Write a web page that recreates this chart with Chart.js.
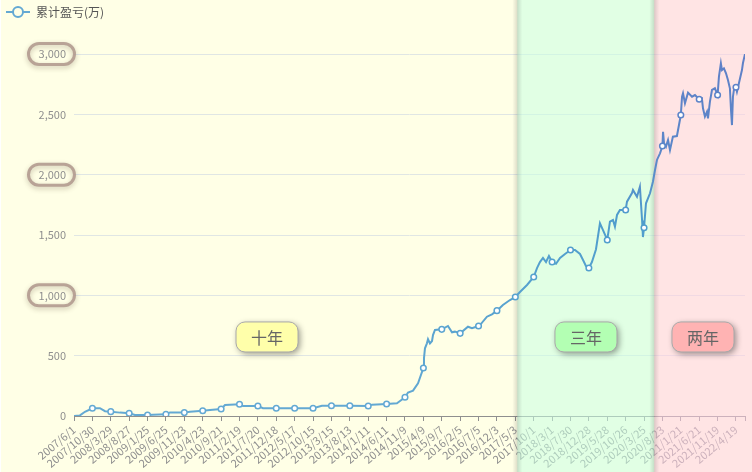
<!DOCTYPE html>
<html>
<head>
<meta charset="utf-8">
<script src="https://cdn.jsdelivr.net/npm/chart.js@4.4.1/dist/chart.umd.min.js"></script>
<style>
  html, body { margin: 0; padding: 0; background: #fff; overflow: hidden; }
  #wrap { width: 752px; height: 472px; position: relative; }
</style>
</head>
<body>
<div id="wrap"><canvas id="c" width="752" height="472"></canvas></div>
<script>
// ─── Data ────────────────────────────────────────────────────────────────────
// x = days since 2007/6/1, y = cumulative profit (万)
var dayIndex = [
  0, 49, 90, 151, 213, 255, 302, 378, 453, 501,
  604, 649, 755, 788, 906, 952, 1057, 1117, 1208, 1240,
  1359, 1388, 1510, 1552, 1661, 1812, 1963, 2036, 2114, 2265,
  2416, 2447, 2567, 2652, 2677, 2718, 2743, 2784, 2825, 2869,
  2874, 2882, 2898, 2907, 2923, 2940, 2948, 2964, 3020, 3071,
  3104, 3128, 3171, 3235, 3268, 3322, 3334, 3391, 3432, 3473,
  3522, 3580, 3624, 3662, 3720, 3775, 3802, 3826, 3851, 3876,
  3900, 3926, 3958, 3991, 4032, 4077, 4114, 4155, 4180, 4204,
  4228, 4253, 4286, 4319, 4344, 4379, 4401, 4426, 4442, 4459,
  4483, 4530, 4541, 4582, 4590, 4623, 4647, 4665, 4672, 4681,
  4697, 4730, 4754, 4771, 4787, 4812, 4832, 4837, 4845, 4861,
  4878, 4894, 4918, 4951, 4983, 4993, 5001, 5017, 5042, 5075,
  5099, 5134, 5156, 5165, 5181, 5198, 5206, 5222, 5239, 5263,
  5285, 5296, 5312, 5321, 5337, 5354, 5370, 5386, 5395, 5403,
  5411, 5419, 5436, 5444, 5460, 5485, 5493, 5510
];
var profit = [
  0, 5, 35, 64, 65, 40, 36, 28, 22, 8,
  8, 10, 14, 30, 28, 36, 44, 50, 58, 91,
  97, 83, 83, 64, 64, 64, 64, 85, 85, 85,
  83, 94, 100, 105, 124, 155, 195, 210, 271, 398,
  480, 561, 602, 636, 602, 622, 671, 713, 718, 746,
  694, 699, 685, 740, 727, 746, 754, 823, 843, 873,
  920, 961, 986, 1028, 1086, 1152, 1226, 1276, 1310, 1276,
  1326, 1276, 1262, 1310, 1343, 1376, 1376, 1343, 1293, 1243,
  1226, 1276, 1380, 1597, 1541, 1459, 1610, 1624, 1569, 1666,
  1707, 1707, 1776, 1848, 1873, 1817, 1900, 1620, 1483, 1560,
  1763, 1846, 1942, 2039, 2122, 2177, 2238, 2356, 2260, 2232,
  2287, 2204, 2315, 2320, 2494, 2646, 2674, 2592, 2680, 2646,
  2660, 2625, 2633, 2550, 2481, 2522, 2467, 2605, 2702, 2716,
  2660, 2812, 2923, 2867, 2881, 2840, 2785, 2716, 2536, 2411,
  2646, 2702, 2724, 2688, 2757, 2867, 2923, 3000
];

// x-axis labels, one every 151 days
var tickLabels = [
  '2007/6/1', '2007/10/30', '2008/3/29', '2008/8/27', '2009/1/25', '2009/6/25',
  '2009/11/23', '2010/4/23', '2010/9/21', '2011/2/19', '2011/7/20', '2011/12/18',
  '2012/5/17', '2012/10/15', '2013/3/15', '2013/8/13', '2014/1/11', '2014/6/11',
  '2014/11/9', '2015/4/9', '2015/9/7', '2016/2/5', '2016/7/5', '2016/12/3',
  '2017/5/3', '2017/10/1', '2018/3/1', '2018/7/30', '2018/12/28', '2019/5/28',
  '2019/10/26', '2020/3/25', '2020/8/23', '2021/1/21', '2021/6/21', '2021/11/19',
  '2022/4/19'
];
var TICK_STEP = 151;
var LAST_DAY = 5510;

// period bands (start/end in days) and their tag boxes
var bandNames  = ['十年', '三年', '两年'];
var bandStart  = [0, 3640, 4765];
var bandEnd    = [3640, 4765, 5600];
var bandTagDay = [1585, 4204, 5165];

var ringValues = [1000, 2000, 3000];

// ─── Styles ──────────────────────────────────────────────────────────────────
var FONT = '"Noto Sans CJK SC", "Noto Sans", sans-serif';
var BG = '#ffffe6';
var bandFill = [null, 'rgba(200,255,225,0.55)', 'rgba(255,205,225,0.55)'];
var tagFill  = ['#ffffaa', '#b3ffb3', '#ffb3b3'];
var lineStops = [[0, '#64a9d3'], [0.55, '#4f9dcc'], [0.7, '#5b88c9'], [1, '#5f80c7']];

var points = dayIndex.map(function(d, i) { return { x: d, y: profit[i] }; });

function hexToRgb(h) {
  return [parseInt(h.substr(1, 2), 16), parseInt(h.substr(3, 2), 16), parseInt(h.substr(5, 2), 16)];
}
function colorFor(v) {
  var t = v / 3000;
  for (var i = 1; i < lineStops.length; i++) {
    if (t <= lineStops[i][0]) {
      var a = lineStops[i - 1], b = lineStops[i];
      var f = (t - a[0]) / (b[0] - a[0]);
      var ca = hexToRgb(a[1]), cb = hexToRgb(b[1]);
      return 'rgb(' + ca.map(function(c, k) { return Math.round(c + (cb[k] - c) * f); }).join(',') + ')';
    }
  }
  return lineStops[lineStops.length - 1][1];
}

function roundRect(ctx, x, y, w, h, r) {
  ctx.beginPath();
  ctx.moveTo(x + r, y);
  ctx.lineTo(x + w - r, y);
  ctx.arcTo(x + w, y, x + w, y + r, r);
  ctx.lineTo(x + w, y + h - r);
  ctx.arcTo(x + w, y + h, x + w - r, y + h, r);
  ctx.lineTo(x + r, y + h);
  ctx.arcTo(x, y + h, x, y + h - r, r);
  ctx.lineTo(x, y + r);
  ctx.arcTo(x, y, x + r, y, r);
  ctx.closePath();
}

// ─── Plugins ─────────────────────────────────────────────────────────────────
var backgroundPlugin = {
  id: 'bg',
  beforeDraw: function(chart) {
    var ctx = chart.ctx;
    ctx.save();
    ctx.fillStyle = BG;
    ctx.fillRect(1, 0, chart.width, chart.height);
    ctx.restore();
  }
};

var bandPlugin = {
  id: 'bands',
  beforeDatasetsDraw: function(chart) {
    var ctx = chart.ctx, xs = chart.scales.x;
    ctx.save();
    for (var i = 1; i < bandNames.length; i++) {
      var x0 = xs.getPixelForValue(bandStart[i]);
      var x1 = (i < bandNames.length - 1) ? xs.getPixelForValue(bandEnd[i]) : chart.width;
      ctx.fillStyle = bandFill[i];
      ctx.fillRect(x0, 0, x1 - x0, chart.height);
      // soft shadow along the left edge of the band
      var g = ctx.createLinearGradient(x0 - 5, 0, x0 + 5, 0);
      g.addColorStop(0, 'rgba(0,0,0,0)');
      g.addColorStop(0.5, 'rgba(0,0,0,0.13)');
      g.addColorStop(1, 'rgba(0,0,0,0)');
      ctx.fillStyle = g;
      ctx.fillRect(x0 - 5, 0, 10, chart.height);
    }
    ctx.restore();
  },
  afterDatasetsDraw: function(chart) {
    var ctx = chart.ctx, xs = chart.scales.x, ys = chart.scales.y;
    ctx.save();
    ctx.font = '16px ' + FONT;
    ctx.textAlign = 'center';
    ctx.textBaseline = 'middle';
    for (var i = 0; i < bandNames.length; i++) {
      var cx = xs.getPixelForValue(bandTagDay[i]);
      var cy = ys.getPixelForValue(655);
      var w = 62, h = 30;
      ctx.save();
      ctx.shadowColor = 'rgba(0,0,0,0.4)';
      ctx.shadowBlur = 6;
      ctx.shadowOffsetX = 2;
      ctx.shadowOffsetY = 2;
      roundRect(ctx, cx - w / 2, cy - h / 2, w, h, 9);
      ctx.fillStyle = tagFill[i];
      ctx.fill();
      ctx.restore();
      roundRect(ctx, cx - w / 2, cy - h / 2, w, h, 9);
      ctx.strokeStyle = '#aaaaaa';
      ctx.lineWidth = 1;
      ctx.stroke();
      ctx.fillStyle = '#666';
      ctx.fillText(bandNames[i], cx, cy + 1);
    }
    ctx.restore();
  }
};

var ringPlugin = {
  id: 'rings',
  afterDraw: function(chart) {
    var ctx = chart.ctx, ys = chart.scales.y;
    ctx.save();
    ringValues.forEach(function(v) {
      var cy = ys.getPixelForValue(v);
      var cx = 51.5, w = 46, h = 21;
      ctx.shadowColor = 'rgba(80,60,40,0.35)';
      ctx.shadowBlur = 5;
      ctx.shadowOffsetY = 2;
      roundRect(ctx, cx - w / 2, cy - h / 2, w, h, h / 2);
      ctx.strokeStyle = 'rgba(175,150,140,0.85)';
      ctx.lineWidth = 3;
      ctx.stroke();
    });
    ctx.restore();
  }
};

var legendPlugin = {
  id: 'legendIcon',
  afterDraw: function(chart) {
    var ctx = chart.ctx;
    ctx.save();
    ctx.strokeStyle = '#64a9d3';
    ctx.lineWidth = 2;
    ctx.beginPath();
    ctx.moveTo(6, 12);
    ctx.lineTo(30, 12);
    ctx.stroke();
    ctx.beginPath();
    ctx.arc(18, 12, 5, 0, Math.PI * 2);
    ctx.fillStyle = BG;
    ctx.fill();
    ctx.stroke();
    ctx.font = '12px ' + FONT;
    ctx.fillStyle = '#555';
    ctx.textBaseline = 'middle';
    ctx.fillText('累计盈亏(万)', 36, 12);
    ctx.restore();
  }
};

// ─── Chart ───────────────────────────────────────────────────────────────────
new Chart(document.getElementById('c').getContext('2d'), {
  type: 'line',
  plugins: [backgroundPlugin, bandPlugin, ringPlugin, legendPlugin],
  data: {
    datasets: [{
      label: '累计盈亏(万)',
      data: points,
      borderWidth: 2,
      tension: 0,
      borderColor: function(c) {
        var area = c.chart.chartArea;
        if (!area) return lineStops[0][1];
        var g = c.chart.ctx.createLinearGradient(0, area.bottom, 0, area.top);
        lineStops.forEach(function(s) { g.addColorStop(s[0], s[1]); });
        return g;
      },
      pointRadius: function(c) {
        var d = c.raw ? c.raw.x : 0;
        return (d > 0 && d % TICK_STEP === 0) ? 2.8 : 0;
      },
      pointBorderWidth: 1.5,
      pointBackgroundColor: '#fff',
      pointBorderColor: function(c) { return colorFor(c.raw ? c.raw.y : 0); },
      fill: false
    }]
  },
  options: {
    responsive: false,
    animation: false,
    locale: 'en-US',
    layout: { padding: { top: 54, right: 7, left: 0, bottom: 0 } },
    plugins: { legend: { display: false }, tooltip: { enabled: false } },
    scales: {
      x: {
        type: 'linear',
        min: 0,
        max: LAST_DAY,
        afterBuildTicks: function(scale) {
          var t = tickLabels.map(function(l, i) { return { value: i * TICK_STEP }; });
          t.push({ value: LAST_DAY });
          scale.ticks = t;
        },
        afterFit: function(scale) {
          scale.height = 56;
          scale.paddingRight = 0;
        },
        ticks: {
          autoSkip: false,
          minRotation: 40,
          maxRotation: 40,
          padding: 2,
          font: { size: 11, family: FONT },
          color: '#8f8f8f',
          callback: function(v) {
            var i = Math.round(v / TICK_STEP);
            return (v % TICK_STEP === 0 && tickLabels[i]) ? tickLabels[i] : '';
          }
        },
        grid: { drawOnChartArea: false, drawTicks: true, tickLength: 5, color: '#8f8f8f' },
        border: { display: true, color: '#8f8f8f' }
      },
      y: {
        min: 0,
        max: 3000,
        afterFit: function(scale) { scale.width = 74; },
        ticks: {
          stepSize: 500,
          padding: 8,
          font: { size: 11, family: FONT },
          color: '#8f8f8f'
        },
        grid: { color: '#e0e6e4', drawTicks: false },
        border: { display: false }
      }
    }
  }
});
</script>
</body>
</html>
